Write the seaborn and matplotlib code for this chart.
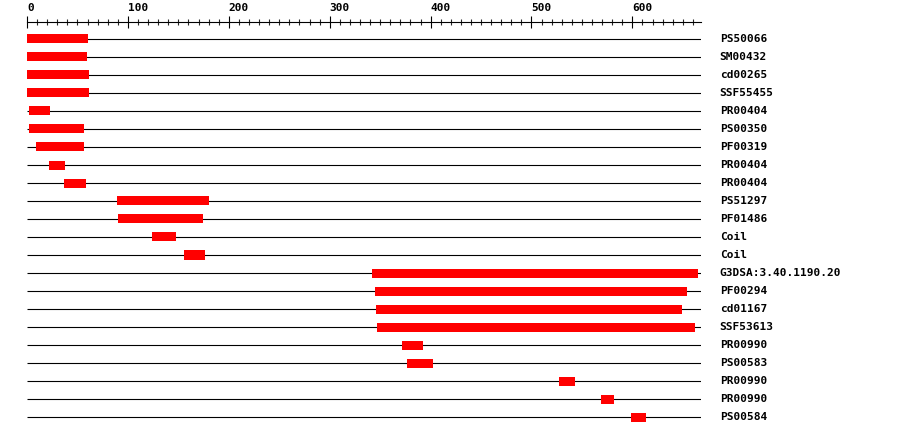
import numpy as np
import pandas as pd
import seaborn as sns
import matplotlib.pyplot as plt

# protein domain hits along a 668 residue sequence
seq_length = 668
labels = ["PS50066", "SM00432", "cd00265", "SSF55455", "PR00404", "PS00350",
          "PF00319", "PR00404", "PR00404", "PS51297", "PF01486", "Coil", "Coil",
          "G3DSA:3.40.1190.20", "PF00294", "cd01167", "SSF53613", "PR00990",
          "PS00583", "PR00990", "PR00990", "PS00584"]
starts = [0, 0, 0, 0, 2, 2, 9, 22, 37, 89, 90, 124, 156,
          342, 345, 346, 347, 372, 377, 527, 569, 599]
ends = [60, 59, 61, 61, 23, 56, 56, 38, 58, 180, 174, 148, 176,
        665, 654, 649, 662, 392, 402, 543, 582, 613]

df = pd.DataFrame({"label": labels, "start": starts, "end": ends})
df["row"] = np.arange(len(df))

sns.set_style("white")
plt.rcParams["font.family"] = ["DejaVu Sans Mono"]

fig = plt.figure(figsize=(9, 4.36), dpi=100)
# axes top edge is the ruler line
ax = fig.add_axes([27 / 900, 0, 674 / 900, (436 - 22) / 436])
ax.set_xlim(0, seq_length)
ax.set_ylim((436 - 39) / 18, (22 - 39) / 18)

for s in ["left", "right", "bottom"]:
    ax.spines[s].set_visible(False)
ax.spines["top"].set_color("black")
ax.spines["top"].set_linewidth(0.8)

ax.xaxis.tick_top()
ax.set_xticks(np.arange(0, seq_length, 100))
ax.set_xticks(np.arange(0, seq_length, 10), minor=True)
ax.tick_params(axis="x", which="major", direction="inout", length=8.6, width=0.8,
               pad=2.5, labelsize=8, colors="black")
ax.tick_params(axis="x", which="minor", direction="inout", length=4.3, width=0.8)
for t in ax.get_xticklabels():
    t.set_horizontalalignment("left")
    t.set_fontweight("bold")
ax.set_yticks([])

ax.hlines(df["row"], 0, seq_length, color="black", linewidth=0.8, zorder=1)
ax.barh(df["row"], df["end"] - df["start"], left=df["start"], height=0.5,
        color="#ff0000", linewidth=0, zorder=2)

for _, r in df.iterrows():
    ax.text(686.5, r["row"], r["label"], va="center", ha="left", fontsize=8,
            fontweight="bold", color="black", clip_on=False)

fig.savefig("out.png", dpi=100, facecolor="white")
